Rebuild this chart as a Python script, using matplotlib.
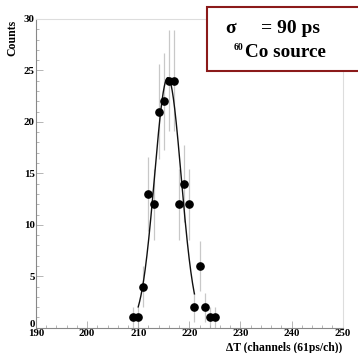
import numpy as np
import matplotlib.pyplot as plt
import matplotlib.transforms as mtransforms
from matplotlib.patches import Rectangle

plt.rcParams['font.family'] = ['Liberation Serif', 'DejaVu Serif']
plt.rcParams['font.weight'] = 'bold'

# measured time difference histogram (channel, counts)
channels = [209, 210, 211, 212, 213, 214, 215, 216, 217, 218, 219, 220, 221, 222, 223, 224, 225]
counts = [1, 1, 4, 13, 12, 21, 22, 24, 24, 12, 14, 12, 2, 6, 2, 1, 1]

# gaussian fit parameters
fit_amp = 24.3
fit_mean = 215.8
fit_sigma = 2.6
fit_range = (210, 221)

x_ticks = [190, 200, 210, 220, 230, 240, 250]
y_ticks = [0, 5, 10, 15, 20, 25, 30]

fig = plt.figure(figsize=(3.58, 3.53), dpi=100)
ax = fig.add_axes([0.1006, 0.0717, 0.8564, 0.8745])

ch = np.array(channels, dtype=float)
n = np.array(counts, dtype=float)
err = np.sqrt(n)

ax.vlines(ch, n - err, n + err, colors='#c8c8c8', linewidth=0.9, zorder=1)

xf = np.linspace(fit_range[0], fit_range[1], 300)
yf = fit_amp * np.exp(-(xf - fit_mean) ** 2 / (2 * fit_sigma ** 2))
ax.plot(xf, yf, color='#111111', linewidth=1.0, zorder=2)

ax.plot(ch, n, 'o', color='black', markersize=5.2, zorder=3)

ax.set_xlim(190, 250)
ax.set_ylim(0, 30)
ax.set_xticks(x_ticks)
ax.set_yticks(y_ticks)
ax.set_xticks(np.arange(190, 251, 2), minor=True)
ax.set_yticks(np.arange(0, 31, 1), minor=True)
ax.tick_params(axis='both', which='both', direction='in', colors='#aaaaaa',
               labelcolor='black', labelsize=7.8)
ax.tick_params(which='major', length=5, width=0.6)
ax.tick_params(which='minor', length=2.5, width=0.6)
ax.tick_params(axis='x', pad=1)
ax.tick_params(axis='y', pad=1)
for lab in ax.get_xticklabels() + ax.get_yticklabels():
    lab.set_fontweight('bold')

# nudge the "0" label up a little so it clears the "190" below it
zero_lab = ax.yaxis.get_major_ticks()[0].label1
zero_lab.set_transform(zero_lab.get_transform() +
                       mtransforms.ScaledTranslation(0, 3 / 72, fig.dpi_scale_trans))

for side in ['top', 'right']:
    ax.spines[side].set_color('#dddddd')
    ax.spines[side].set_linewidth(0.8)
for side in ['left', 'bottom']:
    ax.spines[side].set_color('#888888')
    ax.spines[side].set_linewidth(0.8)

fig.text(0.035, 0.945, 'Counts', rotation=90, ha='center', va='top',
         fontsize=8.5, fontweight='bold')
fig.text(0.955, 1 - 350.5 / 353, '\u0394T (channels (61ps/ch))', ha='right', va='baseline',
         fontsize=8.4, fontweight='bold')

box = Rectangle((207 / 358, 1 - 70.5 / 353), 0.6, 64 / 353, transform=fig.transFigure,
                facecolor='white', edgecolor='#8b1a1a', linewidth=1.5, zorder=5)
fig.patches.append(box)
fig.text(225 / 358, 1 - 33 / 353, '\u03c3', fontsize=14, fontweight='bold',
         ha='left', va='baseline', zorder=6)
fig.text(261 / 358, 1 - 33 / 353, '= 90 ps', fontsize=14, fontweight='bold',
         ha='left', va='baseline', zorder=6)
fig.text(234 / 358, 1 - 50 / 353, '60', fontsize=7, fontweight='bold',
         ha='left', va='baseline', zorder=6)
fig.text(245 / 358, 1 - 57 / 353, 'Co source', fontsize=13.8,
         fontweight='bold', ha='left', va='baseline', zorder=6)

fig.savefig('out.png', dpi=100)
